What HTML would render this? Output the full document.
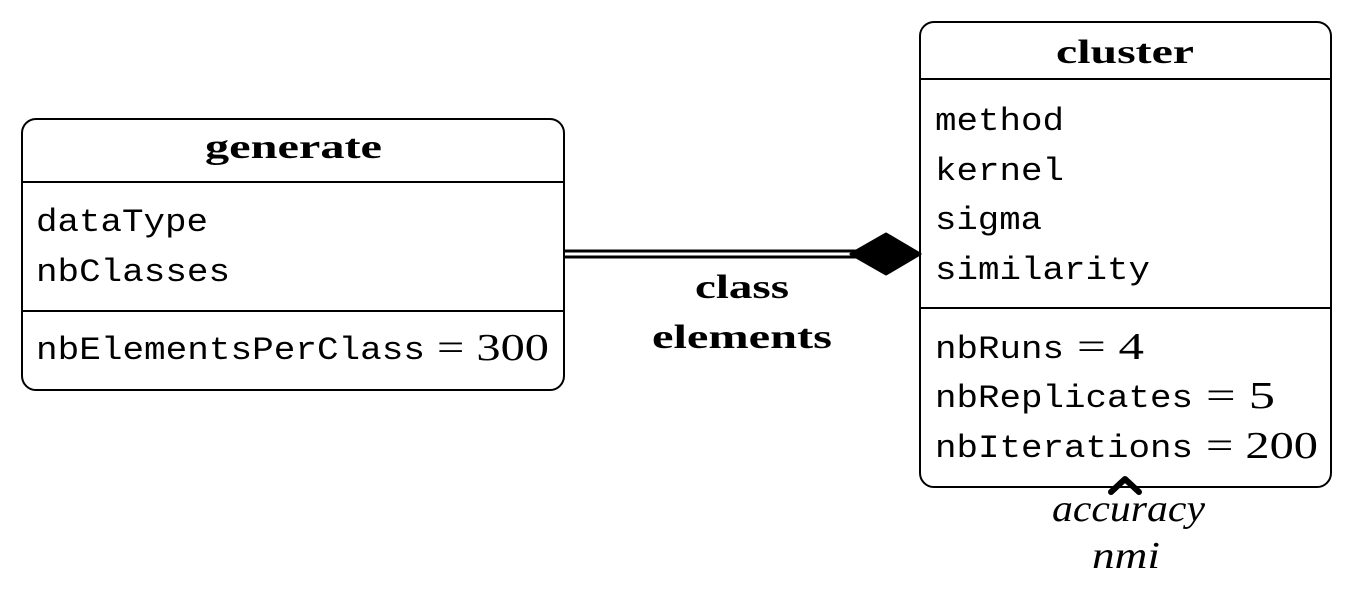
<!DOCTYPE html>
<html><head><style>body{margin:0;background:#fff}</style></head><body>
<svg width="1353" height="606" xmlns="http://www.w3.org/2000/svg">
<g fill="none" stroke="#000" stroke-width="2">
<rect x="22" y="119" width="542" height="271" rx="14"/>
<line x1="22" y1="182" x2="564" y2="182"/>
<line x1="22" y1="311" x2="564" y2="311"/>
<rect x="920" y="22" width="411" height="465" rx="14"/>
<line x1="920" y1="79" x2="1331" y2="79"/>
<line x1="920" y1="308" x2="1331" y2="308"/>
<line x1="564" y1="251" x2="856" y2="251" stroke-width="3"/>
<line x1="564" y1="257" x2="856" y2="257" stroke-width="3"/>
<path d="M1111 492 L1125 479 L1139 492" stroke-width="6" stroke-linecap="round" stroke-linejoin="round"/>
</g>
<path d="M851 254 L886 234 L920 254 L886 274 Z" fill="#000" stroke="#000" stroke-linejoin="round" stroke-width="3"/>
<g font-family="Liberation Serif, serif" font-weight="bold" font-size="34" lengthAdjust="spacingAndGlyphs">
<text x="205" y="158" textLength="177" lengthAdjust="spacingAndGlyphs">generate</text>
<text x="1056" y="63" textLength="138" lengthAdjust="spacingAndGlyphs">cluster</text>
<text x="695" y="298" textLength="94" lengthAdjust="spacingAndGlyphs">class</text>
<text x="652" y="348" textLength="180" lengthAdjust="spacingAndGlyphs">elements</text>
</g>
<g font-family="Liberation Mono, monospace" font-size="32">
<text x="36" y="231" textLength="172" lengthAdjust="spacingAndGlyphs">dataType</text>
<text x="36" y="281" textLength="194" lengthAdjust="spacingAndGlyphs">nbClasses</text>
<text x="36" y="359" textLength="389" lengthAdjust="spacingAndGlyphs">nbElementsPerClass</text>
<text x="935" y="130" textLength="129" lengthAdjust="spacingAndGlyphs">method</text>
<text x="935" y="180" textLength="129" lengthAdjust="spacingAndGlyphs">kernel</text>
<text x="935" y="229" textLength="107" lengthAdjust="spacingAndGlyphs">sigma</text>
<text x="935" y="279" textLength="215" lengthAdjust="spacingAndGlyphs">similarity</text>
<text x="935" y="358" textLength="129" lengthAdjust="spacingAndGlyphs">nbRuns</text>
<text x="935" y="407" textLength="258" lengthAdjust="spacingAndGlyphs">nbReplicates</text>
<text x="935" y="457" textLength="258" lengthAdjust="spacingAndGlyphs">nbIterations</text>
</g>
<g font-family="Liberation Serif, serif" font-size="38">
<text x="437" y="360" textLength="112" lengthAdjust="spacingAndGlyphs">= 300</text>
<text x="1077" y="359" textLength="67" lengthAdjust="spacingAndGlyphs">= 4</text>
<text x="1206" y="408" textLength="69" lengthAdjust="spacingAndGlyphs">= 5</text>
<text x="1206" y="458" textLength="112" lengthAdjust="spacingAndGlyphs">= 200</text>
</g>
<g font-family="Liberation Serif, serif" font-style="italic" font-size="38">
<text x="1052" y="521" textLength="153" lengthAdjust="spacingAndGlyphs">accuracy</text>
<text x="1092" y="568" textLength="68" lengthAdjust="spacingAndGlyphs">nmi</text>
</g>
</svg>
</body></html>
